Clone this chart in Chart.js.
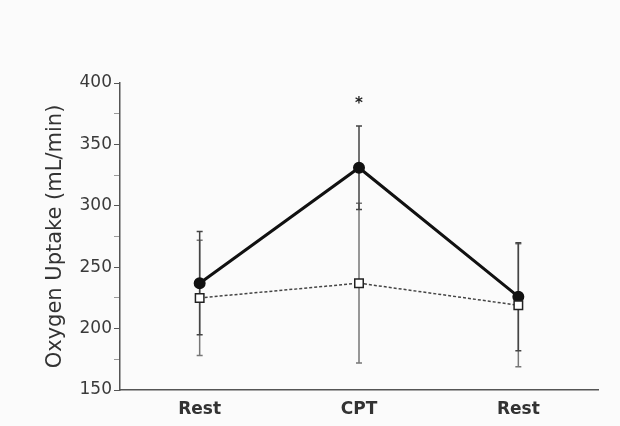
<!DOCTYPE html>
<html>
<head>
<meta charset="utf-8">
<script src="https://cdn.jsdelivr.net/npm/chart.js@4/dist/chart.umd.min.js"></script>
<style>
  html, body { margin: 0; padding: 0; background: #fbfbfb; }
  #wrap { width: 620px; height: 426px; }
</style>
</head>
<body>
<div id="wrap"><canvas id="chart" width="620" height="426"></canvas></div>
<script>
// data
const categories = ['Rest', 'CPT', 'Rest'];
const cptMean = [237, 331, 226];
const cptSD = [42, 34, 44];
const controlMean = [225, 237, 219];
const controlSD = [47, 65, 50];
const yMin = 150, yMax = 400, yStep = 25;
const sigMarks = [{ index: 1, value: 385, text: '*' }];

const FONT = '"DejaVu Sans", "Liberation Sans", sans-serif';

// vertical error bars under the points
const errorBars = {
  id: 'errorBars',
  beforeDatasetsDraw(chart) {
    const ctx = chart.ctx;
    const y = chart.scales.y;
    chart.data.datasets.forEach((ds, i) => {
      const meta = chart.getDatasetMeta(i);
      ctx.save();
      ctx.strokeStyle = ds.errColor;
      ctx.lineWidth = 1.5;
      meta.data.forEach((pt, j) => {
        const top = y.getPixelForValue(ds.data[j] + ds.sd[j]);
        const bot = y.getPixelForValue(ds.data[j] - ds.sd[j]);
        ctx.beginPath();
        ctx.moveTo(pt.x, top); ctx.lineTo(pt.x, bot);
        ctx.moveTo(pt.x - 3, top); ctx.lineTo(pt.x + 3, top);
        ctx.moveTo(pt.x - 3, bot); ctx.lineTo(pt.x + 3, bot);
        ctx.stroke();
      });
      ctx.restore();
    });
  },
  afterDatasetsDraw(chart) {
    const ctx = chart.ctx;
    const x = chart.scales.x, y = chart.scales.y;
    ctx.save();
    ctx.fillStyle = '#222';
    ctx.font = 'bold 15px ' + FONT;
    ctx.textAlign = 'center';
    ctx.textBaseline = 'middle';
    sigMarks.forEach(m => {
      ctx.fillText(m.text, x.getPixelForValue(m.index), y.getPixelForValue(m.value) + 3);
    });
    ctx.restore();
  }
};

const ctx = document.getElementById('chart').getContext('2d');
const chart = new Chart(ctx, {
  type: 'line',
  data: {
    labels: categories,
    datasets: [
      {
        label: 'Control',
        data: controlMean,
        sd: controlSD,
        errColor: '#777',
        borderColor: '#444',
        borderWidth: 1.5,
        borderDash: [3, 2],
        pointStyle: 'rect',
        pointRadius: 6,
        pointBorderWidth: 1.5,
        pointBackgroundColor: '#ffffff',
        pointBorderColor: '#222',
        tension: 0,
        fill: false,
      },
      {
        label: 'CPT',
        data: cptMean,
        sd: cptSD,
        errColor: '#444',
        borderColor: '#111',
        borderWidth: 3,
        pointStyle: 'circle',
        pointRadius: 4.5,
        pointBackgroundColor: '#111',
        pointBorderColor: '#111',
        tension: 0,
        fill: false,
      },
    ],
  },
  options: {
    responsive: false,
    animation: false,
    layout: { padding: { top: 83, right: 22, left: 43, bottom: -3 } },
    plugins: {
      legend: { display: false },
      tooltip: { enabled: false },
    },
    scales: {
      x: {
        offset: true,
        grid: { display: false, drawTicks: false },
        border: { color: '#555', width: 1.5 },
        ticks: {
          color: '#333',
          padding: 11,
          font: { size: 17, weight: 'bold', lineHeight: 1, family: FONT },
        },
      },
      y: {
        min: yMin,
        max: yMax,
        afterFit(scale) { scale.width = 77; },
        grid: {
          display: true,
          drawOnChartArea: false,
          drawTicks: true,
          tickLength: 6,
          tickColor: c => (c.tick && c.tick.value % 50 === 0) ? '#555' : '#999',
        },
        border: { color: '#555', width: 1.5 },
        ticks: {
          stepSize: yStep,
          color: '#3a3a3a',
          padding: 2,
          font: { size: 17, family: FONT },
          callback: v => (v % 50 === 0 ? v : ''),
        },
        title: {
          display: true,
          text: 'Oxygen Uptake (mL/min)',
          color: '#333',
          padding: 0,
          font: { size: 21, family: FONT },
        },
      },
    },
  },
  plugins: [errorBars],
});
</script>
</body>
</html>
